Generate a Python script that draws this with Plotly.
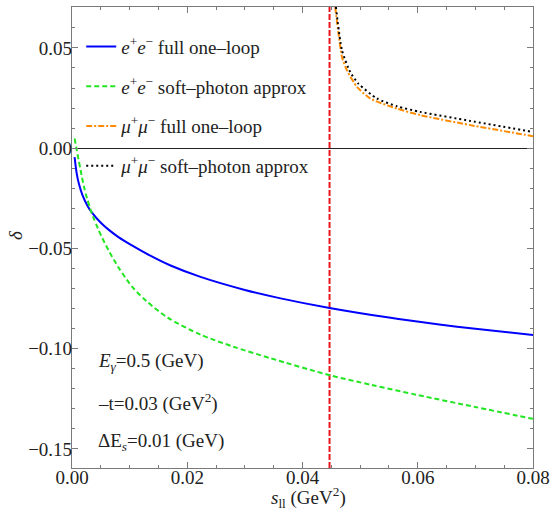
import plotly.graph_objects as go

# ---- data ----
ee_full_x = [0.00045, 0.0008, 0.0012, 0.0018, 0.0027, 0.0035, 0.005, 0.0065, 0.008, 0.0107, 0.0135, 0.017,
             0.0223, 0.03, 0.0362, 0.0447, 0.055, 0.0634, 0.07, 0.08]
ee_full_y = [-0.0045, -0.0123, -0.0178, -0.0233, -0.0288, -0.0323, -0.0372, -0.0410, -0.0442, -0.0490, -0.0535,
             -0.0584, -0.0642, -0.0707, -0.0749, -0.0797, -0.0845, -0.0878, -0.0901, -0.0932]

ee_soft_x = [0.00045, 0.0008, 0.00114, 0.0015, 0.00173, 0.0021, 0.0026, 0.0032, 0.0037, 0.0045, 0.0052, 0.0065,
             0.008, 0.0095, 0.0107, 0.013, 0.0166, 0.0223, 0.028, 0.0345, 0.0447, 0.052, 0.06, 0.07, 0.08]
ee_soft_y = [0.0048, -0.0005, -0.0058, -0.011, -0.0145, -0.0195, -0.025, -0.0305, -0.0345, -0.040, -0.0445, -0.0518,
             -0.0592, -0.0655, -0.0700, -0.0765, -0.0845, -0.0930, -0.0990, -0.1048, -0.1132, -0.1181, -0.1231,
             -0.1291, -0.1350]

mm_full_x = [0.04567, 0.04625, 0.04684, 0.0477, 0.04944, 0.05174, 0.0564, 0.0604, 0.0691, 0.08]
mm_full_y = [0.0704, 0.0573, 0.0455, 0.0389, 0.0306, 0.0248, 0.0197, 0.0165, 0.0115, 0.006]

mm_soft_x = [0.0458, 0.04684, 0.04827, 0.0497, 0.0529, 0.0564, 0.0604, 0.0691, 0.08]
mm_soft_y = [0.0704, 0.0489, 0.038, 0.0322, 0.0248, 0.0209, 0.0181, 0.0136, 0.0081]

muon_threshold = 4 * 0.1057 ** 2   # 4 m_mu^2

x_range = [0.0, 0.08]
y_range = [-0.1595, 0.0704]
x_ticks = [0.0, 0.02, 0.04, 0.06, 0.08]
y_ticks = [-0.15, -0.10, -0.05, 0.0, 0.05]

names = [
    "<i>e</i><sup>+</sup><i>e</i><sup>−</sup> full one–loop",
    "<i>e</i><sup>+</sup><i>e</i><sup>−</sup> soft–photon approx",
    "<i>μ</i><sup>+</sup><i>μ</i><sup>−</sup> full one–loop",
    "<i>μ</i><sup>+</sup><i>μ</i><sup>−</sup> soft–photon approx",
]
notes = [
    "<i>E</i><sub><i>γ</i></sub>=0.5 (GeV)",
    "–t=0.03 (GeV<sup>2</sup>)",
    "ΔE<sub><i>s</i></sub>=0.01 (GeV)",
]
x_title = "<i>s</i><sub>ll</sub> (GeV<sup>2</sup>)"
y_title = "<i>δ</i>"

FONT = "Liberation Serif"
FS = 19
FRAME = "#7a7a7a"
TXT = "#222"

fig = go.Figure()
fig.add_trace(go.Scatter(x=[muon_threshold, muon_threshold], y=y_range, mode="lines",
                         line=dict(color="#e8141c", width=2, dash="6px,2px"),
                         showlegend=False, hoverinfo="skip"))
fig.add_trace(go.Scatter(x=ee_full_x, y=ee_full_y, mode="lines", name=names[0], legendgroup="a",
                         line=dict(color="#0000ff", width=2, shape="spline", smoothing=0.8)))
fig.add_trace(go.Scatter(x=ee_soft_x, y=ee_soft_y, mode="lines", name=names[1], legendgroup="b",
                         line=dict(color="#22e622", width=2, dash="5px,3px", shape="spline", smoothing=0.8)))
fig.add_trace(go.Scatter(x=mm_full_x, y=mm_full_y, mode="lines", name=names[2], legendgroup="c",
                         line=dict(color="#ff8c00", width=2, dash="6px,2px,2px,2px", shape="spline", smoothing=0.6)))
fig.add_trace(go.Scatter(x=mm_soft_x, y=mm_soft_y, mode="lines", name=names[3], legendgroup="d",
                         line=dict(color="#000000", width=2, dash="2px,3px", shape="spline", smoothing=0.6)))

axis_common = dict(
    showline=True, linecolor=FRAME, linewidth=1.2, mirror="ticks",
    ticks="inside", ticklen=6, tickcolor=FRAME, tickwidth=1,
    showgrid=False, tickformat=".2f", automargin=False,
    tickfont=dict(family=FONT, size=FS, color=TXT),
)

fig.update_xaxes(range=x_range, tickvals=x_ticks, zeroline=False,
                 minor=dict(dtick=0.005, ticks="inside", ticklen=3, tickcolor=FRAME),
                 ticklabelstandoff=-8,
                 **axis_common)
fig.update_yaxes(range=y_range, tickvals=y_ticks, zeroline=True, zerolinecolor="#222", zerolinewidth=1,
                 minor=dict(dtick=0.01, tick0=0, ticks="inside", ticklen=3, tickcolor=FRAME),
                 ticklabelstandoff=-5,
                 **axis_common)

# axis titles (text placed in pixel-equivalent paper positions)
fig.add_annotation(xref="paper", yref="paper", x=(308 - 71.7) / 461.3, y=(468.3 - 497.5) / 461.0,
                   xanchor="center", yanchor="middle", text=x_title, showarrow=False,
                   font=dict(family=FONT, size=FS, color=TXT))
fig.add_annotation(xref="paper", yref="paper", x=(15 - 71.7) / 461.3, y=(468.3 - 235) / 461.0,
                   xanchor="center", yanchor="middle", text=y_title, textangle=-90, showarrow=False,
                   font=dict(family=FONT, size=FS, color=TXT))

for i, t in enumerate(notes):
    fig.add_annotation(xref="paper", yref="paper", x=0.053, xanchor="left",
                       y=(468.3 - (362.5 + 40 * i)) / 461.0, yanchor="middle",
                       text=t, showarrow=False, font=dict(family=FONT, size=FS, color=TXT))

fig.update_layout(
    width=551, height=512,
    margin=dict(l=72, r=18, t=7, b=44),
    plot_bgcolor="white", paper_bgcolor="white",
    font=dict(family=FONT, size=FS, color=TXT),
    legend=dict(x=0.02, y=0.955, xanchor="left", yanchor="top", bgcolor="rgba(0,0,0,0)",
                tracegroupgap=12, font=dict(family=FONT, size=FS, color=TXT)),
)

fig.write_html("out.html")
